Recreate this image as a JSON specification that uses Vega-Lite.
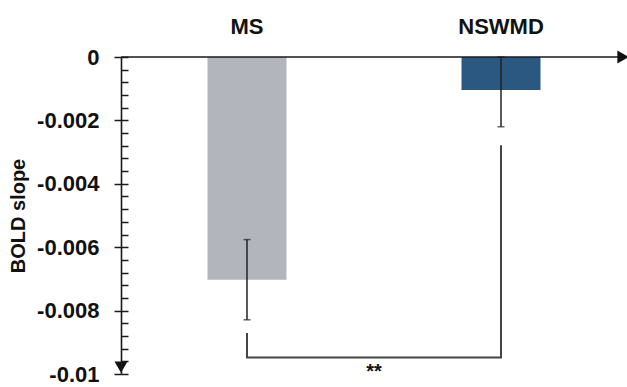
{
  "$schema": "https://vega.github.io/schema/vega-lite/v6.json",
  "width": 506,
  "height": 317,
  "autosize": {"type": "none"},
  "padding": {"left": 121, "top": 57, "right": 0, "bottom": 13},
  "background": "white",
  "config": {"font": "Liberation Sans", "view": {"stroke": null}, "axis": {"grid": false}},
  "datasets": {
    "groups": [
      {"group": "MS", "mean": -0.00703, "lo": -0.00829, "hi": -0.00576},
      {"group": "NSWMD", "mean": -0.00104, "lo": -0.0022, "hi": 0}
    ],
    "bracket": [
      {"grp": "MS", "y": -0.00871, "k": 1},
      {"grp": "MS", "y": -0.00948, "k": 2},
      {"grp": "NSWMD", "y": -0.00948, "k": 3},
      {"grp": "NSWMD", "y": -0.00278, "k": 4}
    ]
  },
  "resolve": {"axis": {"y": "independent"}},
  "layer": [
    {
      "data": {"name": "groups"},
      "mark": {"type": "bar"},
      "encoding": {
        "x": {
          "field": "group", "type": "nominal",
          "scale": {"domain": ["MS", "NSWMD"], "paddingInner": 0.689, "paddingOuter": 0.3405},
          "axis": null
        },
        "y": {
          "field": "mean", "type": "quantitative",
          "scale": {"domain": [-0.01, 0], "nice": false},
          "axis": {"orient": "left", "values": [0, -0.002, -0.004, -0.006, -0.008, -0.01], "tickSize": 7, "tickColor": "#1a1a1a", "tickWidth": 1.5,
                   "domainColor": "#1a1a1a", "domainWidth": 1.6, "labelFontSize": 22, "labelFontWeight": "bold", "labelColor": "#111", "labelPadding": 15,
                   "labelExpr": "datum.value == 0 ? '0' : '' + datum.value",
                   "title": "BOLD slope", "titleFontSize": 20, "titleFontWeight": "bold", "titleColor": "#111", "titlePadding": 8, "zindex": 1}
        },
        "color": {"field": "group", "type": "nominal", "scale": {"domain": ["MS", "NSWMD"], "range": ["#b2b5bc", "#2a5880"]}, "legend": null}
      }
    },
    {
      "data": {"name": "groups"},
      "mark": {"type": "rule", "color": "#222", "strokeWidth": 1.5},
      "encoding": {
        "x": {"field": "group", "type": "nominal", "axis": null},
        "y": {"field": "lo", "type": "quantitative",
              "axis": {"orient": "left", "values": [0, -0.0004, -0.0008, -0.0012, -0.0016, -0.002, -0.0024, -0.0028, -0.0032, -0.0036, -0.004, -0.0044, -0.0048, -0.0052, -0.0056, -0.006, -0.0064, -0.0068, -0.0072, -0.0076, -0.008, -0.0084, -0.0088, -0.0092, -0.0096, -0.01],
                       "tickSize": -7, "tickColor": "#1a1a1a", "tickWidth": 1.5, "domain": false, "labels": false, "title": null, "zindex": 1}},
        "y2": {"field": "hi"}
      }
    },
    {
      "data": {"name": "groups"},
      "mark": {"type": "tick", "color": "#222", "thickness": 1.5, "size": 7},
      "encoding": {
        "x": {"field": "group", "type": "nominal", "axis": null},
        "y": {"field": "lo", "type": "quantitative", "axis": null}
      }
    },
    {
      "data": {"name": "groups"},
      "mark": {"type": "tick", "color": "#222", "thickness": 1.5, "size": 7},
      "encoding": {
        "x": {"field": "group", "type": "nominal", "axis": null},
        "y": {"field": "hi", "type": "quantitative", "axis": null}
      }
    },
    {
      "data": {"values": [{"baseline": 0}]},
      "mark": {"type": "rule", "color": "#1a1a1a", "strokeWidth": 1.6},
      "encoding": {
        "y": {"field": "baseline", "type": "quantitative", "axis": null}
      }
    },
    {
      "data": {"name": "groups"},
      "mark": {"type": "text", "fontSize": 22, "fontWeight": "bold", "color": "#111", "baseline": "alphabetic", "align": "center"},
      "encoding": {
        "x": {"field": "group", "type": "nominal", "axis": null},
        "y": {"datum": 0.00072, "type": "quantitative", "axis": null},
        "text": {"field": "group"}
      }
    },
    {
      "data": {"name": "bracket"},
      "mark": {"type": "line", "color": "#444", "strokeWidth": 2, "strokeJoin": "miter"},
      "encoding": {
        "x": {"field": "grp", "type": "nominal", "axis": null},
        "y": {"field": "y", "type": "quantitative", "axis": null},
        "order": {"field": "k"}
      }
    },
    {
      "data": {"values": [{"label": "**"}]},
      "mark": {"type": "text", "fontSize": 20, "fontWeight": "bold", "color": "#111", "dx": 127, "dy": 20, "baseline": "alphabetic", "align": "center"},
      "encoding": {
        "x": {"datum": "MS", "type": "nominal", "axis": null},
        "y": {"datum": -0.00948, "type": "quantitative", "axis": null},
        "text": {"field": "label"}
      }
    },
    {
      "data": {"values": [{"arrow": "y"}]},
      "mark": {"type": "point", "shape": "triangle-down", "filled": true, "color": "#111", "size": 170, "opacity": 1},
      "encoding": {
        "x": {"value": 0},
        "y": {"datum": -0.00978, "type": "quantitative", "axis": null}
      }
    },
    {
      "data": {"values": [{"arrow": "x"}]},
      "mark": {"type": "point", "shape": "triangle-right", "filled": true, "color": "#111", "size": 170, "opacity": 1},
      "encoding": {
        "x": {"value": {"expr": "width - 4"}},
        "y": {"datum": 0, "type": "quantitative", "axis": null}
      }
    }
  ]
}
